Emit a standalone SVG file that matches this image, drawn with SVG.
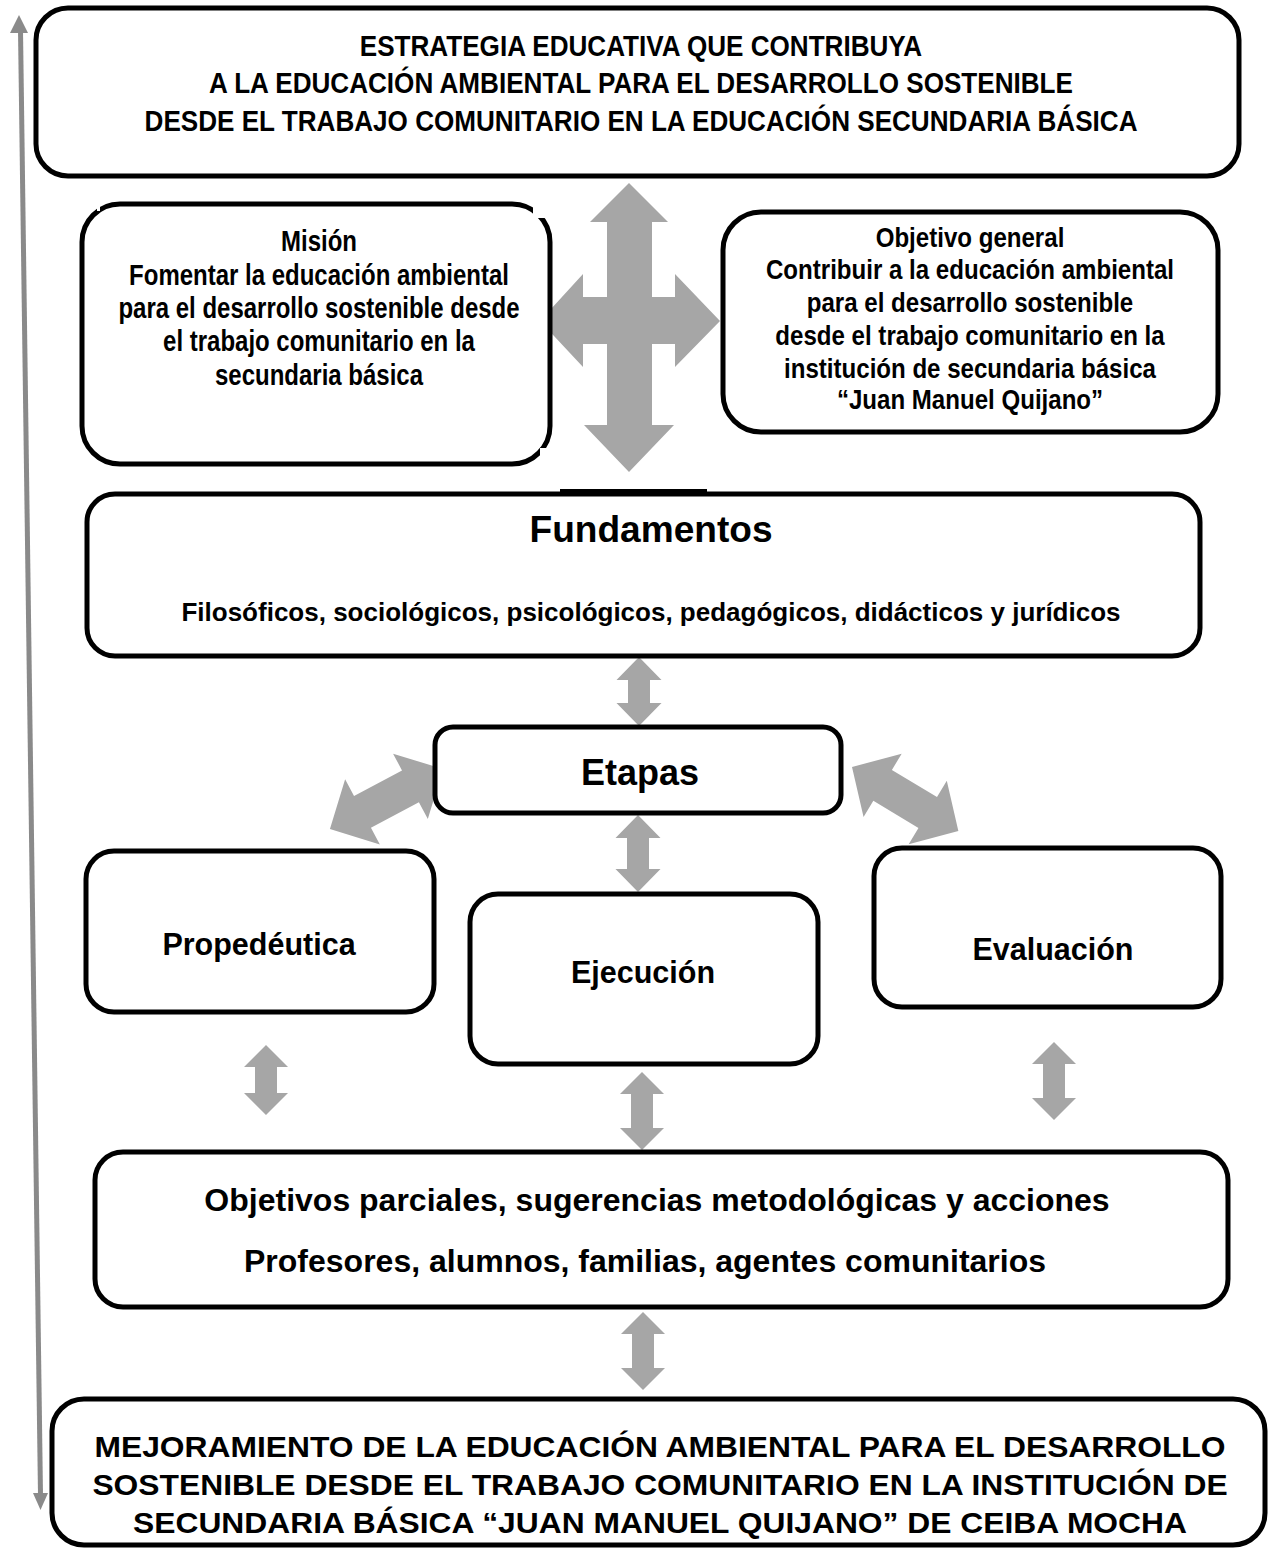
<svg xmlns="http://www.w3.org/2000/svg" width="1271" height="1548" viewBox="0 0 1271 1548">
<style>
.box{fill:#fff;stroke:#000;stroke-width:5}
.arr{fill:#a6a6a6;stroke:none}
.t{font-family:"Liberation Sans",Arial,sans-serif;font-weight:bold;fill:#000;text-anchor:middle}
</style>
<defs>
<polygon id="diag" points="0,0 38,-37 38,-18 94,-18 94,-37 132,0 94,37 94,18 38,18 38,37"/>
</defs>
<rect width="1271" height="1548" fill="#fff"/>

<g id="connectors">
  <!-- long left arrow -->
  <line x1="20.5" y1="30" x2="40.5" y2="1495" stroke="#8a8a8a" stroke-width="5"/>
  <polygon points="19,15 28,33 10,33" fill="#8a8a8a"/>
  <polygon points="40.5,1510 48,1493 33,1493" fill="#8a8a8a"/>
  <!-- cross arrow -->
  <polygon class="arr" points="629,183 668,222 652,222 652,297 675,297 675,274 720,321 675,367 675,344 652,344 652,425 674,425 629,472 584,425 607,425 607,344 583,344 583,367 540,321 583,274 583,297 607,297 607,222 590,222"/>
  <!-- vertical double arrows -->
  <polygon class="arr" points="639,657 661.5,680 650,680 650,703 661.5,703 639,726 616.5,703 628,703 628,680 616.5,680"/>
  <polygon class="arr" points="638,815 660.5,838 649,838 649,869 660.5,869 638,892 615.5,869 627,869 627,838 615.5,838"/>
  <polygon class="arr" points="266,1045 288,1067 277,1067 277,1093 288,1093 266,1115 244,1093 255,1093 255,1067 244,1067"/>
  <polygon class="arr" points="642,1072 664,1094 653,1094 653,1128 664,1128 642,1150 620,1128 631,1128 631,1094 620,1094"/>
  <polygon class="arr" points="1054,1042 1076,1064 1065,1064 1065,1098 1076,1098 1054,1120 1032,1098 1043,1098 1043,1064 1032,1064"/>
  <polygon class="arr" points="643,1312 665,1334 654,1334 654,1368 665,1368 643,1390 621,1368 632,1368 632,1334 621,1334"/>
  <!-- diagonal arrows -->
  <use href="#diag" class="arr" transform="translate(443 769) rotate(152) scale(0.97 1)"/>
  <use href="#diag" class="arr" transform="translate(852 767) rotate(31) scale(0.94 1)"/>
</g>

<g id="node-titulo">
  <rect class="box" x="36" y="8" width="1203" height="168" rx="32"/>
  <g transform="translate(641 0) scale(0.9 1)">
    <text class="t" font-size="29" x="0" y="56.5">ESTRATEGIA EDUCATIVA QUE CONTRIBUYA</text>
    <text class="t" font-size="29" x="0" y="93">A LA EDUCACIÓN AMBIENTAL PARA EL DESARROLLO SOSTENIBLE</text>
    <text class="t" font-size="29" x="0" y="131">DESDE EL TRABAJO COMUNITARIO EN LA EDUCACIÓN SECUNDARIA BÁSICA</text>
  </g>
</g>

<g id="node-mision">
  <rect class="box" x="82" y="204" width="468" height="260" rx="38"/>
  <rect x="533" y="199" width="24" height="19" fill="#fff"/>
  <rect x="540" y="448" width="17" height="20" fill="#fff"/>
  <rect x="97" y="199" width="3" height="12" fill="#fff"/>
  <g transform="translate(319 0) scale(0.827 1)">
    <text class="t" font-size="29" x="0" y="251">Misión</text>
    <text class="t" font-size="29" x="0" y="285">Fomentar la educación ambiental</text>
    <text class="t" font-size="29" x="0" y="318">para el desarrollo sostenible desde</text>
    <text class="t" font-size="29" x="0" y="351">el trabajo comunitario en la</text>
    <text class="t" font-size="29" x="0" y="385">secundaria básica</text>
  </g>
</g>

<g id="node-objetivo">
  <rect class="box" x="723" y="212" width="495" height="220" rx="38"/>
  <g transform="translate(970 0) scale(0.86 1)">
    <text class="t" font-size="28" x="0" y="247">Objetivo general</text>
    <text class="t" font-size="28" x="0" y="279">Contribuir a la educación ambiental</text>
    <text class="t" font-size="28" x="0" y="312">para el desarrollo sostenible</text>
    <text class="t" font-size="28" x="0" y="345">desde el trabajo comunitario en la</text>
    <text class="t" font-size="28" x="0" y="378">institución de secundaria básica</text>
    <text class="t" font-size="28" x="0" y="409">“Juan Manuel Quijano”</text>
  </g>
</g>

<g id="node-fundamentos">
  <rect class="box" x="87" y="494" width="1113" height="162" rx="28"/>
  <rect x="560" y="489" width="147" height="6" fill="#000"/>
  <g transform="translate(651 0) scale(1.03 1)">
    <text class="t" font-size="36" x="0" y="542">Fundamentos</text>
  </g>
  <text class="t" font-size="26" x="651" y="621">Filosóficos, sociológicos, psicológicos, pedagógicos, didácticos y jurídicos</text>
</g>

<g id="node-etapas">
  <rect class="box" x="435" y="727" width="406" height="86" rx="18"/>
  <text class="t" font-size="36" x="640" y="785">Etapas</text>
</g>

<g id="node-propedeutica">
  <rect class="box" x="86" y="851" width="348" height="161" rx="28"/>
  <text class="t" font-size="30.5" x="259" y="955">Propedéutica</text>
</g>

<g id="node-ejecucion">
  <rect class="box" x="470" y="894" width="348" height="170" rx="28"/>
  <text class="t" font-size="30.5" x="643" y="983">Ejecución</text>
</g>

<g id="node-evaluacion">
  <rect class="box" x="874" y="848" width="347" height="159" rx="28"/>
  <text class="t" font-size="30.5" x="1053" y="960">Evaluación</text>
</g>

<g id="node-objetivos">
  <rect class="box" x="95" y="1152" width="1133" height="155" rx="28"/>
  <text class="t" font-size="32" x="657" y="1211">Objetivos parciales, sugerencias metodológicas y acciones</text>
  <text class="t" font-size="32" x="645" y="1272">Profesores, alumnos, familias, agentes comunitarios</text>
</g>

<g id="node-mejoramiento">
  <rect class="box" x="52" y="1399" width="1213" height="146" rx="32"/>
  <g transform="translate(660 0) scale(1.06 1)">
    <text class="t" font-size="30" x="0" y="1457">MEJORAMIENTO DE LA EDUCACIÓN AMBIENTAL PARA EL DESARROLLO</text>
    <text class="t" font-size="30" x="0" y="1495">SOSTENIBLE DESDE EL TRABAJO COMUNITARIO EN LA INSTITUCIÓN DE</text>
    <text class="t" font-size="30" x="0" y="1533">SECUNDARIA BÁSICA “JUAN MANUEL QUIJANO” DE CEIBA MOCHA</text>
  </g>
</g>
</svg>
